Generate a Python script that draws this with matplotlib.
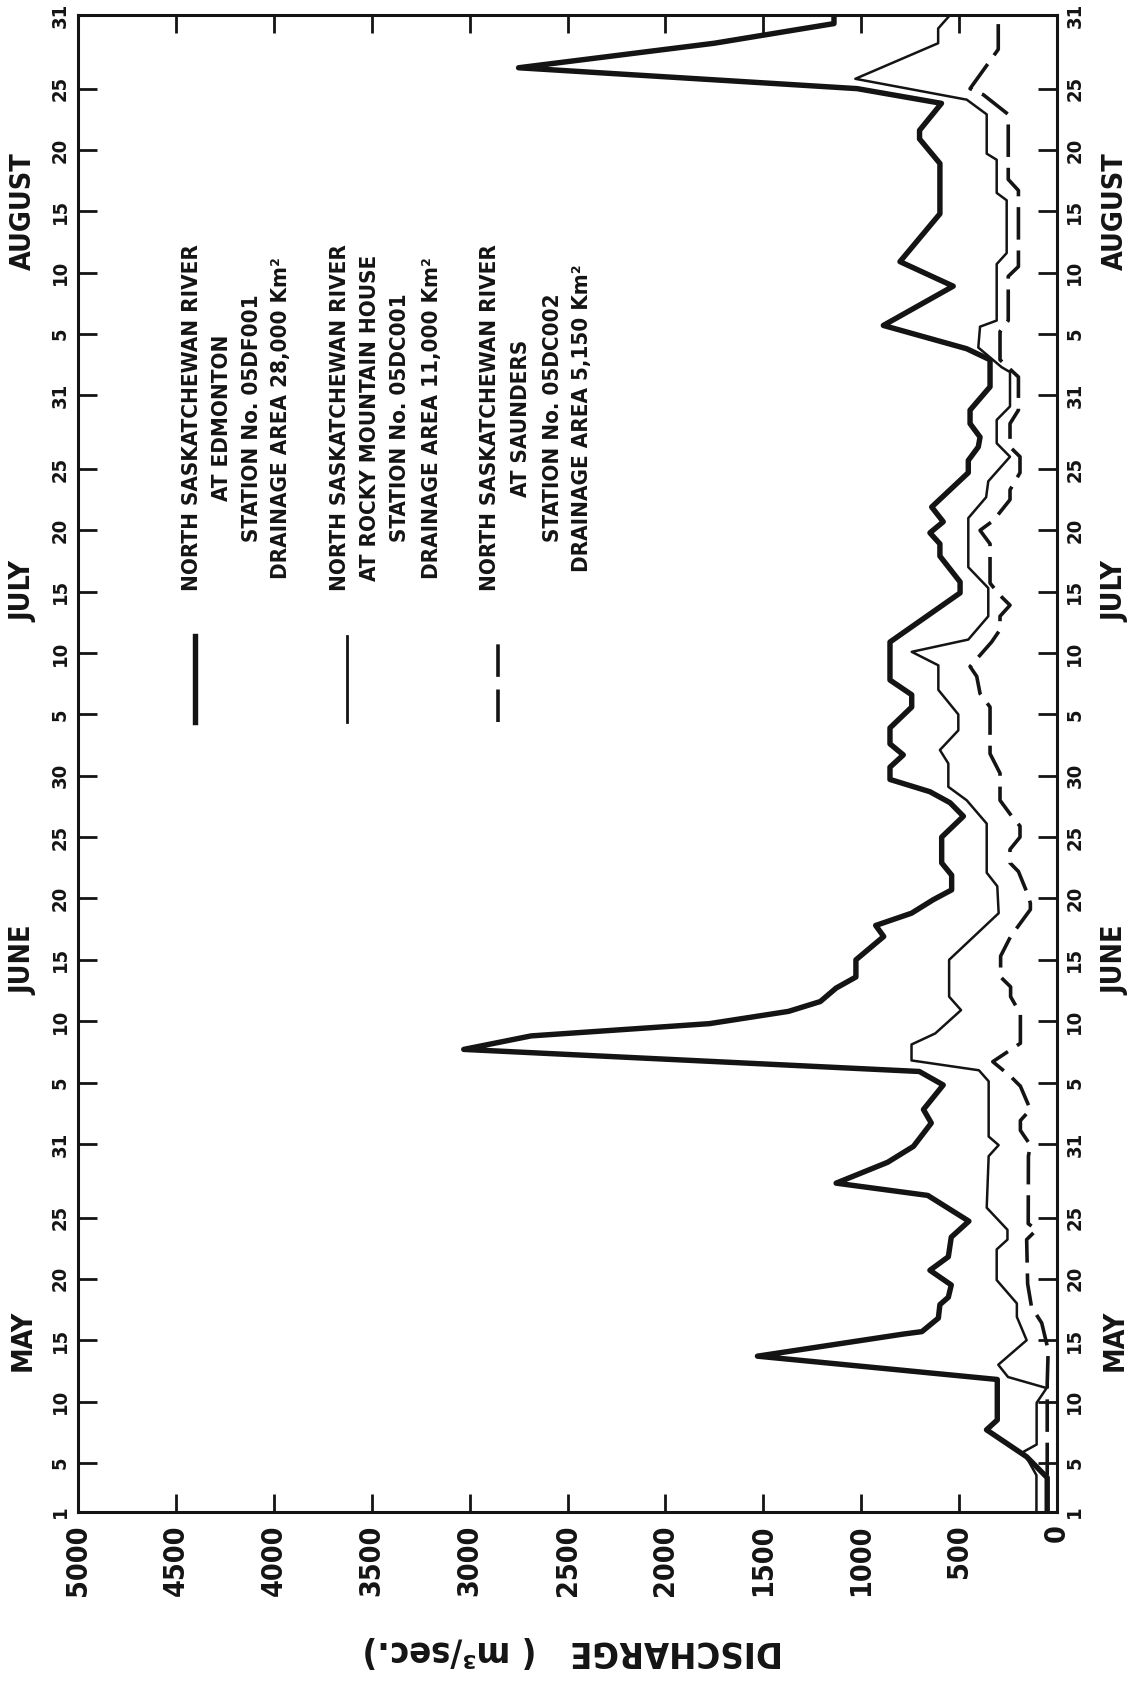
import matplotlib
matplotlib.use("Agg")
import matplotlib.pyplot as plt
from matplotlib import font_manager
from matplotlib.lines import Line2D

# the lettering on the sheet is narrow; use a narrow face when one is installed
ents = font_manager.fontManager.ttflist


def narrow(f, base):
    return f.name.startswith(base) and "Mono" not in f.name and (
        f.stretch not in ("normal", 500) or "Condensed" in f.name or "Narrow" in f.name)


picks = [
    lambda f: f.name == "Liberation Sans Narrow",
    lambda f: narrow(f, "DejaVu Sans"),
    lambda f: narrow(f, "Noto Sans") and "CJK" not in f.name,
    lambda f: narrow(f, "Roboto"),
    lambda f: narrow(f, "Open Sans"),
]
face, stretch = "Liberation Sans", "normal"
for pred in picks:
    hit = next((f for f in ents if pred(f)), None)
    if hit is not None:
        face, stretch = hit.name, hit.stretch
        break
plt.rcParams["font.family"] = [face, "DejaVu Sans"]
plt.rcParams["font.stretch"] = stretch
plt.rcParams["font.weight"] = "semibold"

INK = "#141414"

# day of season (1 = May 1 ... 123 = Aug 31), discharge in m3/sec
edm_day = [1, 3.8, 5.5, 7.7, 8.5, 11.8, 13.7, 15.5, 15.7, 16.8, 17.9, 18.5, 19.5, 20.7, 21.8,
           23.4, 24.7, 26.8, 27.8, 29.5, 30.8, 32.7, 33.8, 35.8, 36.9, 38.7, 39.8, 40.8, 41.8,
           42.6, 43.7, 44.6, 46.0, 47.5, 47.9, 48.8, 49.8, 50.9, 51.7, 52.9, 53.9, 56.0, 57.7,
           58.8, 59.7, 60.7, 61.7, 62.7, 63.6, 64.9, 66.6, 67.6, 68.8, 71.9, 75.9, 76.8, 78.9,
           79.9, 80.8, 81.7, 82.9, 85.7, 86.7, 87.8, 88.6, 89.7, 90.8, 92.7, 94.9, 95.8, 97.7,
           100.9, 102.9, 106.8, 110.9, 112.9, 113.6, 115.8, 117.0, 118.7, 120.7, 121.8, 122.3, 123]
edm_q = [50, 50, 155, 360, 305, 305, 1530, 785, 690, 606, 598, 555, 540, 649, 555,
         540, 450, 660, 1128, 865, 733, 642, 682, 581, 703, 3030, 2686, 1775, 1371,
         1209, 1128, 1027, 1027, 915, 885, 926, 743, 632, 538, 538, 589, 589, 478,
         546, 649, 853, 853, 785, 853, 853, 742, 742, 853, 853, 495, 495, 598,
         598, 649, 581, 640, 453, 453, 402, 393, 444, 444, 342, 342, 461, 887,
         530, 802, 598, 598, 702, 702, 590, 1021, 2750, 1750, 1331, 1139, 1139]

rmh_day = [1, 4.0, 5.9, 6.5, 9.9, 11.1, 12.0, 13.0, 15.0, 16.9, 18.0, 19.9, 22.4, 23.2, 24.0,
           25.8, 30.0, 30.9, 31.6, 36.1, 37.0, 37.8, 39.1, 40.0, 41.9, 43.0, 46.0, 49.8, 52.0,
           53.1, 57.1, 59.0, 60.1, 62.0, 63.1, 64.7, 66.0, 68.0, 70.0, 71.1, 72.1, 74.0, 76.3,
           78.0, 82.0, 83.7, 85.0, 87.0, 88.1, 90.0, 91.1, 93.9, 94.3, 95.9, 97.6, 98.1, 102.7,
           103.6, 107.9, 108.5, 111.2, 111.7, 114.9, 116.1, 117.8, 120.7, 121.9, 123]
rmh_q = [105, 105, 172, 104, 104, 53, 250, 300, 155, 205, 205, 308, 308, 253, 253,
         359, 349, 298, 349, 349, 399, 743, 743, 622, 490, 551, 551, 298, 305,
         359, 359, 461, 555, 555, 598, 504, 504, 606, 606, 742, 453, 351, 351,
         453, 453, 362, 351, 240, 308, 308, 240, 240, 283, 402, 393, 308, 308,
         257, 257, 308, 308, 359, 359, 461, 1030, 607, 607, 546]

sau_day = [4, 11.5, 14.2, 16.4, 17.7, 19.6, 23.2, 24.0, 24.5, 30.0, 30.9, 32.1, 32.9, 33.8,
           35.7, 36.5, 37.7, 39.2, 41.6, 43.0, 43.8, 44.6, 46.3, 47.9, 50.1, 50.6, 51.2, 53.2,
           53.9, 55.0, 56.0, 56.9, 57.7, 59.0, 61.2, 62.8, 66.6, 67.7, 69.1, 69.9, 71.9, 72.9,
           74.0, 74.9, 75.7, 76.7, 79.9, 81.0, 81.8, 83.5, 84.3, 85.7, 87.0, 87.8, 89.7, 90.8,
           93.5, 94.9, 97.2, 98.1, 101.7, 102.5, 108.7, 109.6, 114.9, 116.5, 117.0, 120.2, 123]
sau_q = [50, 50, 45, 78, 130, 150, 155, 104, 147, 146, 136, 187, 187, 136,
         187, 237, 328, 187, 187, 237, 237, 288, 288, 237, 136, 136, 146, 197,
         240, 240, 189, 189, 231, 291, 291, 342, 342, 393, 410, 444, 334, 291,
         291, 240, 291, 342, 342, 393, 325, 240, 240, 189, 189, 240, 240, 197,
         197, 291, 291, 249, 249, 197, 197, 249, 249, 376, 444, 300, 300]

day_ticks = [1, 5, 10, 15, 20, 25, 31, 36, 41, 46, 51, 56, 61,
             66, 71, 76, 81, 86, 92, 97, 102, 107, 112, 117, 123]
day_labels = ["1", "5", "10", "15", "20", "25", "31", "5", "10", "15", "20", "25", "30",
              "5", "10", "15", "20", "25", "31", "5", "10", "15", "20", "25", "31"]
q_ticks = [0, 500, 1000, 1500, 2000, 2500, 3000, 3500, 4000, 4500, 5000]
q_labels = [str(v) for v in q_ticks]
months = ["MAY", "JUNE", "JULY", "AUGUST"]
month_mid = [15, 46, 76, 107]

legend_lines = [
    ["NORTH SASKATCHEWAN RIVER", "AT EDMONTON", "STATION No. 05DF001", "DRAINAGE AREA 28,000 Km²"],
    ["NORTH SASKATCHEWAN RIVER", "AT ROCKY MOUNTAIN HOUSE", "STATION No. 05DC001", "DRAINAGE AREA 11,000 Km²"],
    ["NORTH SASKATCHEWAN RIVER", "AT SAUNDERS", "STATION No. 05DC002", "DRAINAGE AREA 5,150 Km²"],
]

W, H = 1131, 1691
fig = plt.figure(figsize=(W / 100, H / 100), dpi=100)
fx = lambda px: px / W
fy = lambda py: 1 - py / H

ax = fig.add_axes([fx(78), fy(1512), (1057 - 78) / W, (1512 - 15) / H])

# page is turned: discharge runs right-to-left, dates run upward
ax.plot(sau_q, sau_day, color=INK, lw=2.6, dashes=(9, 3))
ax.plot(rmh_q, rmh_day, color=INK, lw=1.8)
ax.plot(edm_q, edm_day, color=INK, lw=3.9)

ax.set_xlim(5000, 0)
ax.set_ylim(1, 123)
ax.set_xticks(q_ticks, q_labels)
ax.set_yticks(day_ticks, day_labels)
ax.tick_params(axis="x", direction="in", length=13, width=2, top=True,
               labelsize=20.5, labelrotation=90, pad=9, colors=INK)
ax.tick_params(axis="y", direction="in", length=14, width=2, right=True, labelright=True,
               labelsize=14.5, labelrotation=90, pad=6, colors=INK)
for t in ax.yaxis.get_major_ticks():
    t.label1.set_va("center")
    t.label2.set_va("center")
for s in ax.spines.values():
    s.set_linewidth(2.2)
    s.set_color(INK)

trans = ax.get_yaxis_transform()
for name, mid in zip(months, month_mid):
    ax.text((23 - 78) / 979, mid, name, transform=trans, rotation=90,
            ha="center", va="center", fontsize=20.5, color=INK)
    ax.text((1115 - 78) / 979, mid, name, transform=trans, rotation=90,
            ha="center", va="center", fontsize=20.5, color=INK)

# legend block
col_x = [[192, 222, 252, 281], [340, 370, 400, 432], [490, 521, 553, 582]]
sample_x = [195, 347, 498]
styles = [dict(lw=3.9), dict(lw=2.0), dict(lw=2.6, dashes=(9, 3.5))]
for lines, xs, sx, st in zip(legend_lines, col_x, sample_x, styles):
    for txt, x in zip(lines, xs):
        fig.text(fx(x), fy(418), txt, rotation=90, ha="center", va="center",
                 fontsize=16, color=INK)
    fig.add_artist(Line2D([fx(sx), fx(sx)], [fy(722), fy(636)],
                          transform=fig.transFigure, color=INK, **st))

fig.text(fx(573), fy(1651), "DISCHARGE   ( m³/sec.)", rotation=180,
         ha="center", va="center", fontsize=26, color=INK)

fig.savefig("out.png", dpi=100)
